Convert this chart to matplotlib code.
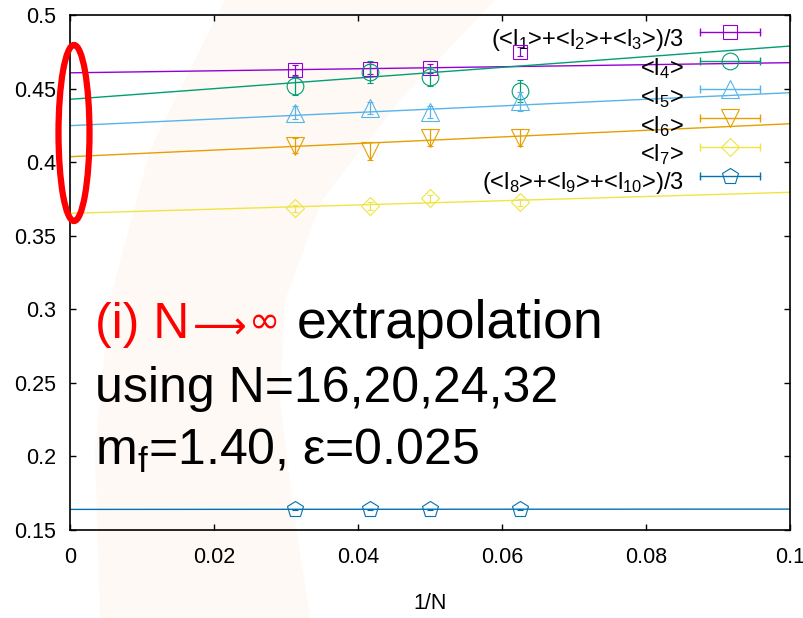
import numpy as np
import matplotlib
matplotlib.use("Agg")
import matplotlib.pyplot as plt
from matplotlib.patches import Ellipse, Polygon

plt.rcParams['font.family'] = ['Liberation Sans', 'DejaVu Sans']
plt.rcParams['mathtext.fontset'] = 'custom'
plt.rcParams['mathtext.rm'] = 'Liberation Sans'
plt.rcParams['mathtext.default'] = 'regular'

# data: 1/N for N = 32, 24, 20, 16
inv_n = [1/32, 1/24, 1/20, 1/16]

labels = [
    '(<l$_1$>+<l$_2$>+<l$_3$>)/3',
    '<l$_4$>',
    '<l$_5$>',
    '<l$_6$>',
    '<l$_7$>',
    '(<l$_8$>+<l$_9$>+<l$_{10}$>)/3',
]
values = [
    [0.4626, 0.4631, 0.4638, 0.4751],
    [0.4520, 0.4615, 0.4581, 0.4483],
    [0.4335, 0.4366, 0.4343, 0.4413],
    [0.4111, 0.4077, 0.4166, 0.4167],
    [0.3686, 0.3702, 0.3754, 0.3727],
    [0.1640, 0.1640, 0.1640, 0.1641],
]
errors = [
    [0.0034, 0.0034, 0.0032, 0.0032],
    [0.0065, 0.0075, 0.0066, 0.0074],
    [0.0045, 0.0040, 0.0040, 0.0065],
    [0.0050, 0.0060, 0.0057, 0.0060],
    [0.0025, 0.0025, 0.0025, 0.0025],
    [0.0003, 0.0003, 0.0003, 0.0003],
]
# linear fits: value at 1/N = 0 and slope
fit_at_zero = [0.4607, 0.4427, 0.4248, 0.4037, 0.3652, 0.1640]
fit_slope = [0.069, 0.362, 0.224, 0.224, 0.143, 0.002]

colors = ['#9400d3', '#009e73', '#56b4e9', '#e69f00', '#f0e442', '#0072b2']
markers = ['s', 'o', '^', 'v', 'D', 'p']
msizes = [9.5, 12, 13, 13, 9, 12]

W, H = 804, 618
fig = plt.figure(figsize=(W / 100, H / 100), dpi=100)

# faint background swoosh from the slide
swoosh = [(225, 0), (495, 0), (400, 100), (322, 200), (285, 300), (280, 400),
          (292, 500), (310, 618), (100, 618), (95, 450), (110, 300), (150, 150)]
fig.patches.append(Polygon([(x / W, 1 - y / H) for x, y in swoosh], closed=True,
                           transform=fig.transFigure, facecolor='#fef9f5',
                           edgecolor='none', zorder=-5))

ax = fig.add_axes([70 / W, 88 / H, 720 / W, 515 / H])
ax.patch.set_alpha(0)

xfit = np.array([0.0, 0.1])
for i in range(len(labels)):
    ax.plot(xfit, fit_at_zero[i] + fit_slope[i] * xfit, color=colors[i], lw=1.0, zorder=2)
    ax.errorbar(inv_n, values[i], yerr=errors[i], fmt=markers[i], color=colors[i],
                mfc='none', mec=colors[i], ms=msizes[i], mew=0.8,
                elinewidth=0.9, capsize=2.5, capthick=0.9, zorder=3)

# gnuplot style key, right aligned text, sample on the right
row0 = (530 - 32) / 515
dy = 28.7 / 515
for i in range(len(labels)):
    y = row0 - i * dy
    ax.plot([0.875, 0.958], [y, y], transform=ax.transAxes, color=colors[i], lw=1.0)
    ax.plot([0.875, 0.958], [y, y], transform=ax.transAxes, ls='none', marker='|',
            ms=6, mew=1.0, color=colors[i])
    ax.plot([0.9165], [y], transform=ax.transAxes, marker=markers[i], ms=msizes[i],
            mfc='none', mec=colors[i], mew=0.8)
    ax.text(0.853, y - 8 / 515, labels[i], transform=ax.transAxes, ha='right',
            va='center', fontsize=17)

ax.set_xlim(0, 0.1)
ax.set_ylim(0.15, 0.5)
ax.set_xticks([0, 0.02, 0.04, 0.06, 0.08, 0.1])
ax.set_xticklabels(['0', '0.02', '0.04', '0.06', '0.08', '0.1'])
ax.set_yticks([0.15, 0.2, 0.25, 0.3, 0.35, 0.4, 0.45, 0.5])
ax.set_yticklabels(['0.15', '0.2', '0.25', '0.3', '0.35', '0.4', '0.45', '0.5'])
ax.tick_params(direction='in', length=4, width=1, top=True, right=True,
               labelsize=15.5, pad=12)
ax.tick_params(axis='y', pad=10)
for s in ax.spines.values():
    s.set_linewidth(1.2)
ax.set_xlabel('1/N', fontsize=15.5, labelpad=18)

# red ellipse around the extrapolated values
fig.patches.append(Ellipse((74 / W, 1 - 133 / H), 31 / W, 176 / H,
                           transform=fig.transFigure, fill=False,
                           edgecolor='#ff0000', lw=4.5, zorder=5))

# big annotation text (first line built from pieces)
base1 = 1 - 338 / H
fig.text(95 / W, base1, '(i) N', color='#ff0000', fontsize=36, va='baseline')
fig.text(193 / W, base1, '\u27f6', color='#ff0000', fontsize=27, va='baseline',
         family=['DejaVu Sans'])
fig.text(249 / W, base1 + 5 / H, '\u221e', color='#ff0000', fontsize=27,
         va='baseline', family=['DejaVu Sans'])
fig.text(297 / W, base1, 'extrapolation', color='black', fontsize=38.5,
         va='baseline')
fig.text(95 / W, 1 - 402 / H, 'using N=16,20,24,32', fontsize=36,
         va='baseline', ha='left')
fig.text(95 / W, 1 - 465 / H, 'm$_f$=1.40, \u03b5=0.025', fontsize=36,
         va='baseline', ha='left')

fig.savefig('out.png', dpi=100)
